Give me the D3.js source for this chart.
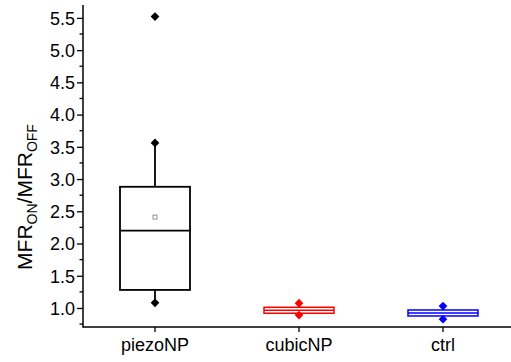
<!DOCTYPE html>
<html>
<head>
<meta charset="utf-8">
<script src="https://cdn.jsdelivr.net/npm/d3@7"></script>
<style>
  body { margin: 0; background: #fff; }
  text { font-family: "Liberation Sans", Arial, sans-serif; fill: #000; }
</style>
</head>
<body>
<div id="chart"></div>
<script>
// box plot values
const categories = ['piezoNP', 'cubicNP', 'ctrl'];
const whiskLow = [1.08, 0.89, 0.825];
const q1 = [1.28, 0.918, 0.876];
const median = [2.20, 0.964, 0.922];
const q3 = [2.88, 1.011, 0.969];
const whiskHigh = [3.56, 1.075, 1.03];
const means = [2.41, null, null];
const outliers = [[5.52], [], []];
const colors = ['#000000', '#ff0000', '#0000ff'];
const yTicks = [1.0, 1.5, 2.0, 2.5, 3.0, 3.5, 4.0, 4.5, 5.0, 5.5];

const width = 511, height = 362;
const plotLeft = 83, plotBottom = 327, plotTop = 5;

const svg = d3.select('#chart').append('svg')
    .attr('width', width)
    .attr('height', height);

const y = d3.scaleLinear().domain([0.705, 5.70]).range([plotBottom, plotTop]);
const x = d3.scaleBand().domain(categories).range([plotLeft, 515]);
const boxW = 70;

// y axis
const yAxis = svg.append('g').attr('transform', `translate(${plotLeft},0)`)
    .call(d3.axisLeft(y).tickValues(yTicks).tickFormat(d3.format('.1f')).tickSize(6).tickSizeOuter(0));
yAxis.select('.domain').remove();
yAxis.selectAll('.tick line').attr('stroke-width', 1.3);
yAxis.selectAll('.tick text').attr('font-size', 18).attr('x', -8).attr('dy', '0.35em');
const minor = d3.range(0.75, 5.7, 0.5);
yAxis.selectAll('.minor').data(minor).enter().append('line')
    .attr('x1', -3.5).attr('x2', 0)
    .attr('y1', d => y(d)).attr('y2', d => y(d))
    .attr('stroke', '#000').attr('stroke-width', 1.3);
svg.append('line').attr('x1', plotLeft).attr('x2', plotLeft).attr('y1', plotTop).attr('y2', plotBottom + 0.75)
    .attr('stroke', '#000').attr('stroke-width', 1.5);

// x axis
const xAxis = svg.append('g').attr('transform', `translate(0,${plotBottom})`)
    .call(d3.axisBottom(x).tickSize(5).tickSizeOuter(0));
xAxis.select('.domain').remove();
xAxis.selectAll('.tick line').attr('stroke-width', 1.3);
xAxis.selectAll('.tick text').attr('font-size', 18).attr('y', 9).attr('dy', '0.85em');
svg.append('line').attr('x1', plotLeft).attr('x2', width).attr('y1', plotBottom).attr('y2', plotBottom)
    .attr('stroke', '#000').attr('stroke-width', 1.5);

// y label
const yl = svg.append('text')
    .attr('transform', `translate(32,${197}) rotate(-90)`)
    .attr('text-anchor', 'middle')
    .attr('font-size', 21);
yl.append('tspan').text('MFR');
yl.append('tspan').text('ON').attr('font-size', 14).attr('dy', 5);
yl.append('tspan').text('/MFR').attr('dy', -5);
yl.append('tspan').text('OFF').attr('font-size', 14).attr('dy', 5);

const diamond = d3.symbol().type(d3.symbolSquare).size(38);

const groups = svg.selectAll('.box').data(categories).enter().append('g')
    .attr('class', 'box')
    .attr('transform', d => `translate(${x(d) + x.bandwidth() / 2},0)`);

groups.each(function(c, i) {
  const g = d3.select(this);
  const col = colors[i];
  const sw = i === 0 ? 1.8 : 1.5;
  g.append('line').attr('y1', y(q3[i])).attr('y2', y(whiskHigh[i]))
      .attr('stroke', col).attr('stroke-width', sw);
  g.append('line').attr('y1', y(q1[i])).attr('y2', y(whiskLow[i]))
      .attr('stroke', col).attr('stroke-width', sw);
  g.append('rect')
      .attr('x', -boxW / 2).attr('width', boxW)
      .attr('y', y(q3[i])).attr('height', y(q1[i]) - y(q3[i]))
      .attr('fill', 'none').attr('stroke', col).attr('stroke-width', sw);
  g.append('line').attr('x1', -boxW / 2).attr('x2', boxW / 2)
      .attr('y1', y(median[i])).attr('y2', y(median[i]))
      .attr('stroke', col).attr('stroke-width', sw);
  [whiskLow[i], whiskHigh[i]].concat(outliers[i]).forEach(v => {
    g.append('path').attr('d', diamond)
        .attr('transform', `translate(0,${y(v)}) rotate(45)`)
        .attr('fill', col);
  });
  if (means[i] != null) {
    g.append('rect').attr('x', -2).attr('y', y(means[i]) - 2)
        .attr('width', 4).attr('height', 4)
        .attr('fill', 'none').attr('stroke', '#777').attr('stroke-width', 0.8);
  }
});
</script>
</body>
</html>
